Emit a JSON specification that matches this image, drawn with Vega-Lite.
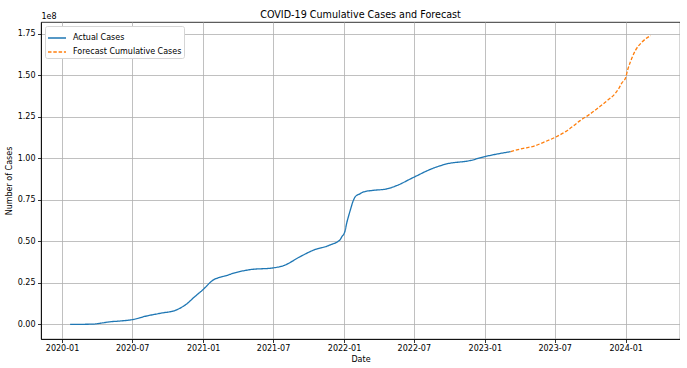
{
  "$schema": "https://vega.github.io/schema/vega-lite/v6.json",
  "width": 639,
  "height": 317,
  "autosize": {"type": "pad"},
  "padding": {"left": 5, "top": 10, "right": 0, "bottom": 0},
  "background": "white",
  "title": {"text": "COVID-19 Cumulative Cases and Forecast", "font": "DejaVu Sans", "fontSize": 9.6, "fontWeight": "normal", "color": "black", "anchor": "middle", "offset": -8},
  "config": {
    "font": "DejaVu Sans",
    "view": {"stroke": "black", "strokeWidth": 0.8},
    "axis": {"domainColor": "black", "domainWidth": 0.8, "tickColor": "black", "tickWidth": 0.8, "tickSize": 3.5, "labelFont": "DejaVu Sans", "labelFontSize": 8, "labelColor": "black", "labelPadding": 2, "titleFont": "DejaVu Sans", "titleFontSize": 8, "titleFontWeight": "normal", "titleColor": "black", "gridColor": "#b0b0b0", "gridWidth": 0.8},
    "legend": {"orient": "top-left", "offset": 4, "padding": 2, "strokeColor": "#d5d5d5", "fillColor": "white", "cornerRadius": 2, "symbolType": "stroke", "symbolSize": 324, "symbolStrokeWidth": 1.3, "labelFont": "DejaVu Sans", "labelFontSize": 8, "labelColor": "black", "rowPadding": -6, "labelOffset": 6}
  },
  "data": {"values": [
    {"date": "2020-01-22", "cases": 0, "series": "Actual Cases"},
    {"date": "2020-02-20", "cases": 0, "series": "Actual Cases"},
    {"date": "2020-03-20", "cases": 100000, "series": "Actual Cases"},
    {"date": "2020-04-08", "cases": 600000, "series": "Actual Cases"},
    {"date": "2020-05-04", "cases": 1500000, "series": "Actual Cases"},
    {"date": "2020-06-01", "cases": 2000000, "series": "Actual Cases"},
    {"date": "2020-07-01", "cases": 2800000, "series": "Actual Cases"},
    {"date": "2020-08-07", "cases": 5000000, "series": "Actual Cases"},
    {"date": "2020-09-11", "cases": 6600000, "series": "Actual Cases"},
    {"date": "2020-10-24", "cases": 8700000, "series": "Actual Cases"},
    {"date": "2020-11-10", "cases": 10800000, "series": "Actual Cases"},
    {"date": "2020-11-19", "cases": 12200000, "series": "Actual Cases"},
    {"date": "2020-12-06", "cases": 15800000, "series": "Actual Cases"},
    {"date": "2021-01-01", "cases": 21000000, "series": "Actual Cases"},
    {"date": "2021-01-27", "cases": 26700000, "series": "Actual Cases"},
    {"date": "2021-02-13", "cases": 28300000, "series": "Actual Cases"},
    {"date": "2021-03-02", "cases": 29300000, "series": "Actual Cases"},
    {"date": "2021-03-14", "cases": 30300000, "series": "Actual Cases"},
    {"date": "2021-05-02", "cases": 32900000, "series": "Actual Cases"},
    {"date": "2021-07-02", "cases": 34000000, "series": "Actual Cases"},
    {"date": "2021-07-28", "cases": 35300000, "series": "Actual Cases"},
    {"date": "2021-09-09", "cases": 40700000, "series": "Actual Cases"},
    {"date": "2021-10-13", "cases": 44600000, "series": "Actual Cases"},
    {"date": "2021-11-26", "cases": 47800000, "series": "Actual Cases"},
    {"date": "2021-12-22", "cases": 51000000, "series": "Actual Cases"},
    {"date": "2021-12-27", "cases": 53000000, "series": "Actual Cases"},
    {"date": "2022-01-01", "cases": 54500000, "series": "Actual Cases"},
    {"date": "2022-01-04", "cases": 56500000, "series": "Actual Cases"},
    {"date": "2022-01-08", "cases": 61000000, "series": "Actual Cases"},
    {"date": "2022-01-12", "cases": 64500000, "series": "Actual Cases"},
    {"date": "2022-01-17", "cases": 68500000, "series": "Actual Cases"},
    {"date": "2022-01-25", "cases": 74500000, "series": "Actual Cases"},
    {"date": "2022-01-30", "cases": 76800000, "series": "Actual Cases"},
    {"date": "2022-02-12", "cases": 78700000, "series": "Actual Cases"},
    {"date": "2022-02-20", "cases": 79700000, "series": "Actual Cases"},
    {"date": "2022-03-18", "cases": 80700000, "series": "Actual Cases"},
    {"date": "2022-04-21", "cases": 81500000, "series": "Actual Cases"},
    {"date": "2022-05-17", "cases": 83500000, "series": "Actual Cases"},
    {"date": "2022-07-01", "cases": 88600000, "series": "Actual Cases"},
    {"date": "2022-08-20", "cases": 94000000, "series": "Actual Cases"},
    {"date": "2022-09-24", "cases": 96600000, "series": "Actual Cases"},
    {"date": "2022-11-23", "cases": 98600000, "series": "Actual Cases"},
    {"date": "2023-01-01", "cases": 101000000, "series": "Actual Cases"},
    {"date": "2023-03-09", "cases": 104000000, "series": "Actual Cases"},
    {"date": "2023-03-09", "cases": 104000000, "series": "Forecast Cumulative Cases"},
    {"date": "2023-04-11", "cases": 106000000, "series": "Forecast Cumulative Cases"},
    {"date": "2023-05-07", "cases": 107200000, "series": "Forecast Cumulative Cases"},
    {"date": "2023-06-02", "cases": 109600000, "series": "Forecast Cumulative Cases"},
    {"date": "2023-07-03", "cases": 112700000, "series": "Forecast Cumulative Cases"},
    {"date": "2023-08-02", "cases": 116600000, "series": "Forecast Cumulative Cases"},
    {"date": "2023-08-19", "cases": 119600000, "series": "Forecast Cumulative Cases"},
    {"date": "2023-09-05", "cases": 122700000, "series": "Forecast Cumulative Cases"},
    {"date": "2023-10-01", "cases": 126700000, "series": "Forecast Cumulative Cases"},
    {"date": "2023-10-27", "cases": 131300000, "series": "Forecast Cumulative Cases"},
    {"date": "2023-11-14", "cases": 134700000, "series": "Forecast Cumulative Cases"},
    {"date": "2023-12-05", "cases": 139000000, "series": "Forecast Cumulative Cases"},
    {"date": "2023-12-14", "cases": 141900000, "series": "Forecast Cumulative Cases"},
    {"date": "2023-12-22", "cases": 145300000, "series": "Forecast Cumulative Cases"},
    {"date": "2024-01-01", "cases": 148500000, "series": "Forecast Cumulative Cases"},
    {"date": "2024-01-06", "cases": 153000000, "series": "Forecast Cumulative Cases"},
    {"date": "2024-01-13", "cases": 157800000, "series": "Forecast Cumulative Cases"},
    {"date": "2024-01-26", "cases": 164800000, "series": "Forecast Cumulative Cases"},
    {"date": "2024-02-12", "cases": 169900000, "series": "Forecast Cumulative Cases"},
    {"date": "2024-03-06", "cases": 173900000, "series": "Forecast Cumulative Cases"}
  ]},
  "layer": [
    {
      "transform": [{"filter": "datum.series == 'Actual Cases'"}],
      "mark": {"type": "line", "strokeWidth": 1.3, "interpolate": "monotone"},
      "encoding": {
        "x": {"field": "date", "type": "temporal", "scale": {"type": "utc", "domain": [{"year": 2019, "month": 11, "date": 7, "hours": 12, "utc": true}, {"year": 2024, "month": 5, "date": 21, "utc": true}]}, "axis": {"title": "Date", "format": "%Y-%m", "tickCount": {"interval": "month", "step": 6}, "titlePadding": 3, "grid": true, "labelFlush": false}},
        "y": {"field": "cases", "type": "quantitative", "scale": {"domain": [-8860000, 182100000], "nice": false, "zero": false}, "axis": {"title": "Number of Cases", "values": [0, 25000000, 50000000, 75000000, 100000000, 125000000, 150000000, 175000000], "labelExpr": "format(datum.value / 100000000, '.2f')", "titlePadding": 4, "labelPadding": 2.5, "grid": true}},
        "color": {"field": "series", "type": "nominal", "scale": {"domain": ["Actual Cases", "Forecast Cumulative Cases"], "range": ["#1f77b4", "#ff7f0e"]}, "legend": {"title": null}},
        "strokeDash": {"field": "series", "type": "nominal", "scale": {"domain": ["Actual Cases", "Forecast Cumulative Cases"], "range": [[1, 0], [3.5, 1.8]]}, "legend": {"title": null}}
      }
    },
    {
      "transform": [{"filter": "datum.series != 'Actual Cases'"}],
      "mark": {"type": "line", "strokeWidth": 1.3, "interpolate": "monotone"},
      "encoding": {
        "x": {"field": "date", "type": "temporal", "axis": {"orient": "top", "title": "1e8", "labels": false, "ticks": false, "domain": false, "grid": false, "titleAnchor": "start", "titleAlign": "left", "titlePadding": 2}},
        "y": {"field": "cases", "type": "quantitative"},
        "color": {"field": "series", "type": "nominal"},
        "strokeDash": {"field": "series", "type": "nominal"}
      }
    }
  ],
  "resolve": {"axis": {"x": "independent"}}
}
